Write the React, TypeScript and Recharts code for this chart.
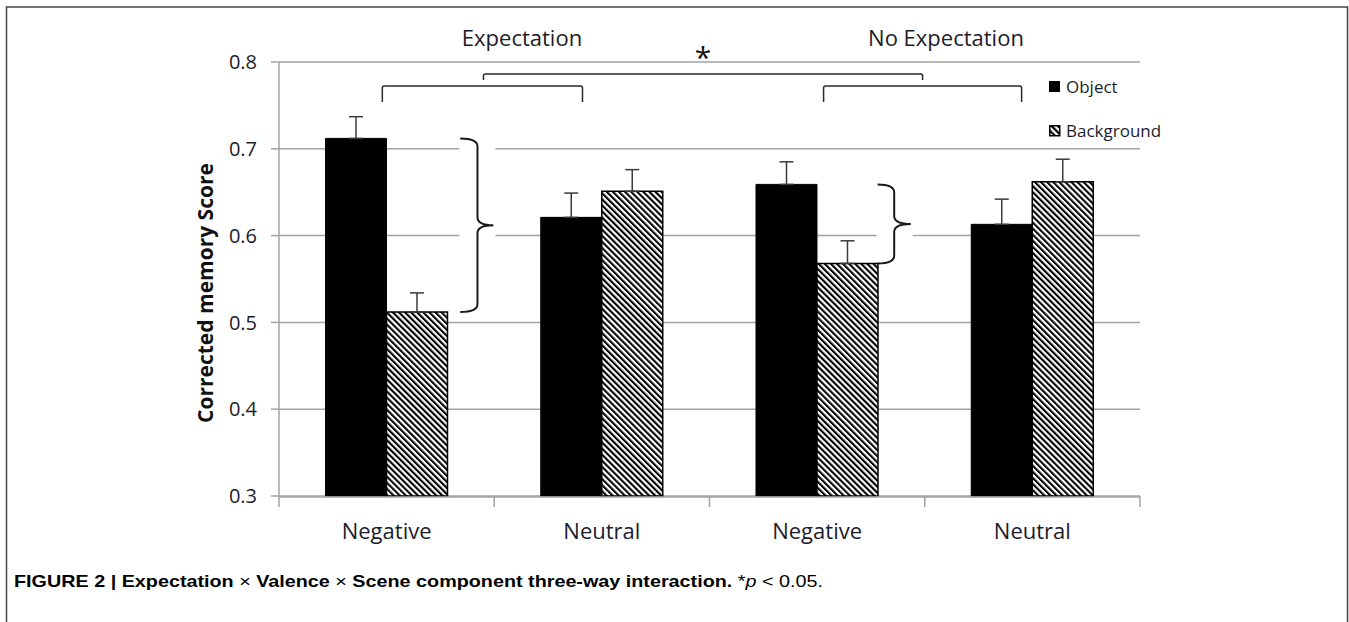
import React from 'react';
import { ComposedChart, Bar, XAxis, YAxis, CartesianGrid, ErrorBar, Legend, ReferenceArea } from 'recharts';

const categories = ['Negative', 'Neutral', 'Negative', 'Neutral'];
const objectScores = [0.712, 0.621, 0.659, 0.613];
const objectErrors = [0.025, 0.028, 0.026, 0.029];
const backgroundScores = [0.512, 0.651, 0.568, 0.662];
const backgroundErrors = [0.022, 0.025, 0.026, 0.026];
const yTicks = [0.3, 0.4, 0.5, 0.6, 0.7, 0.8];
const boundaryTicks = [0, 1, 2, 3, 4];

// significance brackets, x in category units (0..4), y in score units
const brackets = [
  { x1: 0.48, x2: 1.41, top: 0.7723, bottom: 0.7539 },
  { x1: 2.53, x2: 3.45, top: 0.7723, bottom: 0.7539 },
  { x1: 0.95, x2: 2.99, top: 0.7862, bottom: 0.7793 },
];
// curly braces spanning object vs background of a category
const braces = [
  { cat: 0, x1: 0.842, x2: 0.996, spine: 0.52 },
  { cat: 2, x1: 2.781, x2: 2.935, spine: 0.5 },
];

const data = categories.map((c, i) => ({
  id: i,
  mid: i + 0.5,
  object: objectScores[i],
  background: backgroundScores[i],
  objectErr: [0, objectErrors[i]],
  backgroundErr: [0, backgroundErrors[i]],
}));

const font = '"Open Sans", sans-serif';
const textColor = '#1c1c2a';
const gridColor = '#a3a3a3';

const BracketShape = (p: any) => {
  const { x, y, width: w, height: h } = p;
  return (
    <path
      d={`M${x},${y + h} L${x},${y + 2} Q${x},${y} ${x + 2},${y} L${x + w - 2},${y} Q${x + w},${y} ${x + w},${y + 2} L${x + w},${y + h}`}
      fill="none"
      stroke="#2a2a2a"
      strokeWidth={1.5}
    />
  );
};

const makeBrace = (spine: number) => (p: any) => {
  const { x, y, width: w, height: h } = p;
  const xs = x + w * spine;
  const xt = x + w;
  const ym = y + h / 2;
  const r = Math.min(8, h / 6);
  return (
    <g>
      <rect x={x - 1} y={y - 2} width={w + 3} height={h + 4} fill="#fff" />
      <path
        d={`M${x},${y} Q${xs},${y} ${xs},${y + r} L${xs},${ym - r} Q${xs},${ym} ${xt},${ym} Q${xs},${ym} ${xs},${ym + r} L${xs},${y + h - r} Q${xs},${y + h} ${x},${y + h}`}
        fill="none"
        stroke="#1a1a1a"
        strokeWidth={2}
      />
    </g>
  );
};

const YLabel = (props: any) => {
  const vb = props.viewBox || {};
  const cx = vb.x;
  const cy = vb.y + vb.height / 2 + 14;
  return (
    <text
      x={cx}
      y={cy}
      transform={`rotate(-90 ${cx} ${cy})`}
      textAnchor="middle"
      dominantBaseline="central"
      fontFamily={font}
      fontSize={21}
      fontWeight={700}
      fill="#111"
    >
      Corrected memory Score
    </text>
  );
};

const renderLegend = () => (
  <div style={{ fontFamily: font, fontSize: 17, color: textColor, lineHeight: '22px' }}>
    <div style={{ display: 'flex', alignItems: 'center' }}>
      <svg width={12} height={12}>
        <rect x={0} y={0} width={11} height={11} fill="#000" />
      </svg>
      <span style={{ marginLeft: 5 }}>Object</span>
    </div>
    <div style={{ display: 'flex', alignItems: 'center', marginTop: 22 }}>
      <svg width={12} height={12}>
        <defs>
          <pattern id="hatchIcon" patternUnits="userSpaceOnUse" width={4.5} height={4.5} patternTransform="rotate(-45)">
            <rect width={4.5} height={4.5} fill="#fff" />
            <rect width={2.2} height={4.5} fill="#000" />
          </pattern>
        </defs>
        <rect x={0.75} y={0.75} width={10} height={10} fill="url(#hatchIcon)" stroke="#000" strokeWidth={1.5} />
      </svg>
      <span style={{ marginLeft: 5 }}>Background</span>
    </div>
  </div>
);

export default function App() {
  return (
    <div style={{ position: 'absolute', left: 0, top: 0, width: 1349, height: 622, background: '#fff' }}>
      <ComposedChart
        width={1349}
        height={622}
        data={data}
        margin={{ top: 62, right: 209, bottom: 86, left: 205 }}
        barCategoryGap="21.6%"
        barGap={0}
      >
        <defs>
          <pattern id="hatch" patternUnits="userSpaceOnUse" width={4.3} height={4.3} patternTransform="rotate(-45)">
            <rect width={4.3} height={4.3} fill="#fff" />
            <rect width={2.1} height={4.3} fill="#000" />
          </pattern>
        </defs>
        <CartesianGrid vertical={false} xAxisId="labels" stroke={gridColor} strokeWidth={1.5} />
        <XAxis
          xAxisId="labels"
          dataKey="id"
          height={39}
          tickFormatter={(i: number) => categories[i]}
          axisLine={{ stroke: gridColor, strokeWidth: 1.5 }}
          tickLine={false}
          tickSize={0}
          tickMargin={26}
          tick={{ fill: textColor, fontSize: 22, fontFamily: font }}
        />
        <XAxis
          xAxisId="edges"
          dataKey="mid"
          type="number"
          domain={[0, 4]}
          ticks={boundaryTicks}
          allowDataOverflow
          height={1}
          tickFormatter={() => ''}
          tick={{ fontSize: 1, fill: 'none' }}
          axisLine={false}
          tickLine={{ stroke: gridColor, strokeWidth: 1.5 }}
          tickSize={11}
          tickMargin={0}
        />
        <YAxis
          width={74}
          domain={[0.3, 0.8]}
          ticks={yTicks}
          tickFormatter={(v: number) => v.toFixed(1)}
          axisLine={{ stroke: gridColor, strokeWidth: 1.5 }}
          tickLine={{ stroke: gridColor, strokeWidth: 1.5 }}
          tickSize={8}
          tickMargin={14}
          tick={{ fill: textColor, fontSize: 20, fontFamily: font }}
          label={<YLabel />}
        />
        <Bar dataKey="object" name="Object" xAxisId="labels" fill="#000" stroke="#000" strokeWidth={1} isAnimationActive={false}>
          <ErrorBar dataKey="objectErr" direction="y" width={7} stroke="#3a3a3a" strokeWidth={1.5} />
        </Bar>
        <Bar dataKey="background" name="Background" xAxisId="labels" fill="url(#hatch)" stroke="#000" strokeWidth={1.5} isAnimationActive={false}>
          <ErrorBar dataKey="backgroundErr" direction="y" width={7} stroke="#3a3a3a" strokeWidth={1.5} />
        </Bar>
        {brackets.map((b, i) => (
          <ReferenceArea
            key={`br${i}`}
            xAxisId="edges"
            x1={b.x1}
            x2={b.x2}
            y1={b.bottom}
            y2={b.top}
            ifOverflow="visible"
            shape={BracketShape}
          />
        ))}
        {braces.map((b, i) => (
          <ReferenceArea
            key={`bc${i}`}
            xAxisId="edges"
            x1={b.x1}
            x2={b.x2}
            y1={backgroundScores[b.cat]}
            y2={objectScores[b.cat]}
            ifOverflow="visible"
            shape={makeBrace(b.spine)}
          />
        ))}
        <Legend
          layout="vertical"
          align="center"
          verticalAlign="middle"
          content={renderLegend}
          wrapperStyle={{ left: 1049, top: 76, width: 140 }}
        />
      </ComposedChart>
      <svg width={1349} height={622} style={{ position: 'absolute', left: 0, top: 0, pointerEvents: 'none' }}>
        <rect x={6.5} y={7} width={1341} height={640} fill="none" stroke="#444" strokeWidth={1.5} />
        <text x={522} y={46} textAnchor="middle" fontFamily={font} fontSize={22} fill={textColor}>Expectation</text>
        <text x={946} y={46} textAnchor="middle" fontFamily={font} fontSize={22} fill={textColor}>No Expectation</text>
        <text x={703} y={68} textAnchor="middle" fontFamily={font} fontSize={30} fill="#111">*</text>
        <text
          x={14}
          y={587}
          textLength={809}
          lengthAdjust="spacingAndGlyphs"
          fontFamily='"Liberation Sans Narrow", "Liberation Sans", Arial, sans-serif'
          fontSize={17}
          fill="#000"
        >
          <tspan fontWeight={700}>FIGURE 2 | Expectation </tspan>
          <tspan>×</tspan>
          <tspan fontWeight={700}> Valence </tspan>
          <tspan>×</tspan>
          <tspan fontWeight={700}> Scene component three-way interaction.</tspan>
          <tspan> *</tspan>
          <tspan fontStyle="italic">p</tspan>
          <tspan> &lt; 0.05.</tspan>
        </text>
      </svg>
    </div>
  );
}
